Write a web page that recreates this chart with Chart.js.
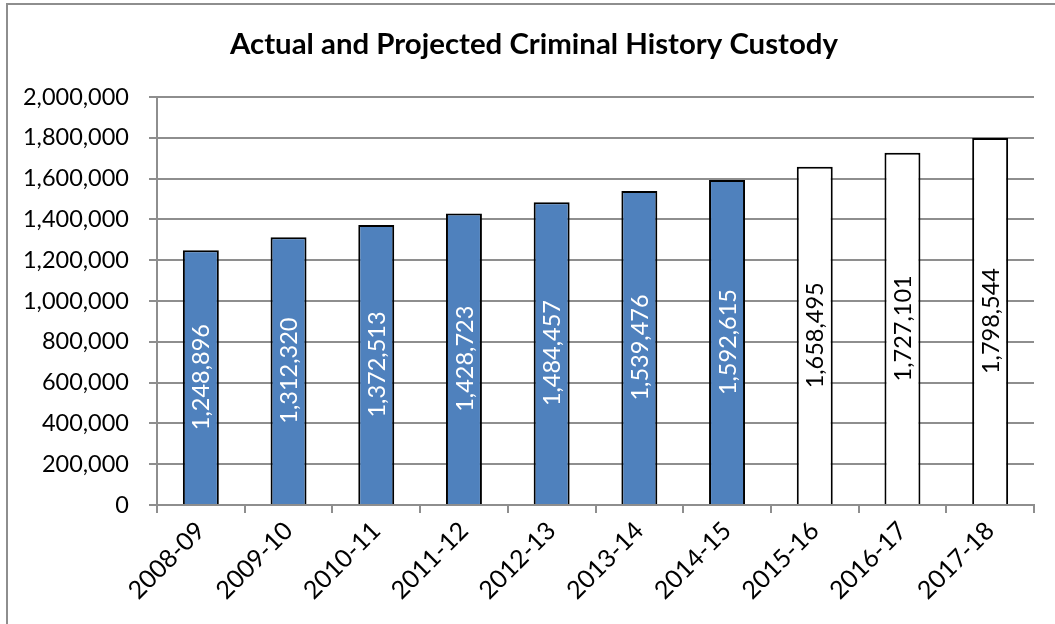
<!DOCTYPE html>
<html>
<head>
<meta charset="utf-8">
<script src="https://cdn.jsdelivr.net/npm/chart.js@4/dist/chart.umd.min.js"></script>
<style>
  html, body { margin: 0; padding: 0; background: #fff; }
  #wrap { position: relative; width: 1055px; height: 624px; overflow: hidden; }
  #frame { position: absolute; left: 6px; top: 3px; width: 1100px; height: 700px; border: 2px solid #8e8e8e; box-sizing: border-box; }
  canvas { position: absolute; left: 0; top: 0; }
</style>
</head>
<body>
<div id="wrap">
  <div id="frame"></div>
  <canvas id="custody" width="1055" height="624"></canvas>
</div>
<script>
var years = ['2008-09', '2009-10', '2010-11', '2011-12', '2012-13', '2013-14', '2014-15', '2015-16', '2016-17', '2017-18'];
var custody = [1248896, 1312320, 1372513, 1428723, 1484457, 1539476, 1592615, 1658495, 1727101, 1798544];
// first seven years are actuals, the rest projected
var isActual = [true, true, true, true, true, true, true, false, false, false];
var yTicks = [0, 200000, 400000, 600000, 800000, 1000000, 1200000, 1400000, 1600000, 1800000, 2000000];
var titleText = 'Actual and Projected Criminal History Custody';

var FONT = 'Lato, "Open Sans", sans-serif';

function fmt(v){ return v.toLocaleString('en-US'); }

// title is centred on the whole frame, not on the plot
var frameTitle = {
    id: 'frameTitle',
    afterDraw: function(chart){
        var c = chart.ctx;
        c.save();
        c.font = 'bold 29.4px ' + FONT;
        c.fillStyle = '#000';
        c.textAlign = 'center';
        c.textBaseline = 'middle';
        c.fillText(titleText, 534, 45);
        c.restore();
    }
};

// writes each value sideways in the middle of its bar
var barLabels = {
    id: 'barLabels',
    afterDatasetsDraw: function(chart){
        var c = chart.ctx;
        var meta = chart.getDatasetMeta(0);
        c.save();
        c.font = '23.5px ' + FONT;
        c.textAlign = 'center';
        c.textBaseline = 'middle';
        meta.data.forEach(function(bar, i){
            var mid = (bar.y + bar.base) / 2;
            c.save();
            c.translate(bar.x, mid);
            c.rotate(-Math.PI / 2);
            c.fillStyle = isActual[i] ? '#ffffff' : '#000000';
            c.fillText(fmt(custody[i]), 0, 1);
            c.restore();
        });
        c.restore();
    }
};

new Chart(document.getElementById('custody'), {
    type: 'bar',
    data: {
        labels: years,
        datasets: [{
            label: 'Custody',
            data: custody,
            backgroundColor: isActual.map(function(a){ return a ? '#4f81bd' : '#ffffff'; }),
            borderColor: '#000000',
            borderWidth: 2,
            borderSkipped: 'bottom',
            categoryPercentage: 1,
            barPercentage: 0.41
        }]
    },
    options: {
        responsive: false,
        animation: false,
        layout: { padding: { left: 0, right: 21, top: 97, bottom: 0 } },
        plugins: {
            legend: { display: false },
            tooltip: { enabled: false },
            title: { display: false }
        },
        scales: {
            x: {
                grid: { drawOnChartArea: false, offset: true, tickLength: 8, color: '#8e8e8e', lineWidth: 2 },
                border: { color: '#8e8e8e', width: 2 },
                ticks: { color: '#000', font: { family: FONT, size: 25 }, minRotation: 45, maxRotation: 45, padding: 3 },
                afterFit: function(s){ s.height = 624 - 505; }
            },
            y: {
                min: 0,
                max: 2000000,
                afterBuildTicks: function(s){ s.ticks = yTicks.map(function(v){ return { value: v }; }); },
                grid: { color: '#8e8e8e', lineWidth: 2, tickLength: 8 },
                border: { color: '#8e8e8e', width: 2 },
                ticks: { color: '#000', font: { family: FONT, size: 23.5 }, padding: 20, callback: function(v){ return fmt(v); } },
                afterFit: function(s){ s.width = 157; }
            }
        }
    },
    plugins: [barLabels, frameTitle]
});
</script>
</body>
</html>
